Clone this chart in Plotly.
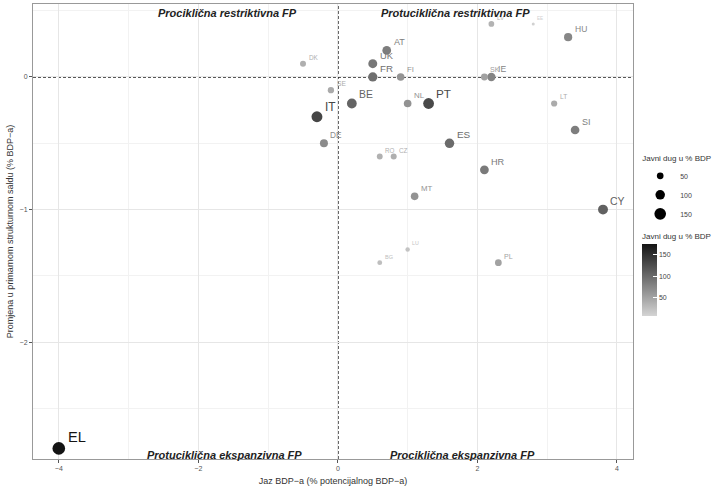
import numpy as np
import plotly.graph_objects as go

# ---- data ----
countries = ["AT", "BE", "BG", "CY", "CZ", "DE", "DK", "EE", "EL", "ES", "FI", "FR", "HR", "HU",
             "IE", "IT", "LT", "LU", "LV", "MT", "NL", "PL", "PT", "RO", "SE", "SI", "SK", "UK"]
output_gap = [0.7, 0.2, 0.6, 3.8, 0.8, -0.2, -0.5, 2.8, -4.0, 1.6, 0.9, 0.5, 2.1, 3.3,
              2.2, -0.3, 3.1, 1.0, 2.2, 1.1, 1.0, 2.3, 1.3, 0.6, -0.1, 3.4, 2.1, 0.5]
delta_balance = [0.2, -0.2, -1.4, -1.0, -0.6, -0.5, 0.1, 0.4, -2.8, -0.5, 0.0, 0.0, -0.7, 0.3,
                 0.0, -0.3, -0.2, -1.3, 0.4, -0.9, -0.2, -1.4, -0.2, -0.6, -0.1, -0.4, 0.0, 0.1]
public_debt = [84, 106, 26, 108, 40, 71, 40, 10, 177, 99, 63, 96, 86, 75,
               77, 132, 43, 22, 36, 64, 65, 51, 129, 38, 44, 83, 52, 89]

size_legend_values = [50, 100, 150]
colorbar_ticks = [50, 100, 150]
quadrant_labels = ["Prociklična restriktivna FP", "Protuciklična restriktivna FP",
                   "Protuciklična ekspanzivna FP", "Prociklična ekspanzivna FP"]
x_title = "Jaz BDP\u2212a (% potencijalnog BDP\u2212a)"
y_title = "Promjena u primarnom strukturnom saldu (% BDP\u2212a)"
legend_title = "Javni dug u % BDP"

# ---- styling helpers ----
FONT = "Liberation Sans, Arial, sans-serif"
cmin, cmax = 7, 176
g_low, g_high = 212, 20
cscale = [[0, f"rgb({g_low},{g_low},{g_low})"], [1, f"rgb({g_high},{g_high},{g_high})"]]


def diameter(d):
    return 0.95 * np.sqrt(d)


def gray(d):
    t = min(max((d - cmin) / (cmax - cmin), 0), 1)
    g = int(round(g_low + (g_high - g_low) * t))
    return f"rgb({g},{g},{g})"


fig = go.Figure()

fig.add_trace(go.Scatter(
    x=output_gap, y=delta_balance, mode="markers",
    text=countries,
    marker=dict(size=[diameter(d) for d in public_debt], color=public_debt,
                colorscale=cscale, cmin=cmin, cmax=cmax,
                line=dict(width=0), opacity=1,
                showscale=True,
                colorbar=dict(
                    title=dict(text=legend_title, side="top", font=dict(family=FONT, size=8, color="#333")),
                    x=1.015, xanchor="left", y=0.504, yanchor="top",
                    lenmode="pixels", len=86, thicknessmode="pixels", thickness=15,
                    ypad=0, xpad=0,
                    tickvals=colorbar_ticks, ticks="inside", tickcolor="white", ticklen=4,
                    tickfont=dict(family=FONT, size=7, color="#444"), outlinewidth=0,
                )),
    showlegend=False, hoverinfo="text",
))

# point labels (upper right of each point, sized/coloured by debt)
for c, xv, yv, d in zip(countries, output_gap, delta_balance, public_debt):
    fig.add_annotation(x=xv, y=yv, text=c, showarrow=False,
                       xanchor="left", yanchor="bottom", borderpad=0,
                       xshift=diameter(d) / 2 + 1.5, yshift=2,
                       font=dict(family=FONT, size=4 + 0.06 * d, color=gray(d)))

for v in size_legend_values:
    fig.add_trace(go.Scatter(
        x=[None], y=[None], mode="markers", name=str(v),
        marker=dict(size=diameter(v), color="black", line=dict(width=0)),
        showlegend=True,
    ))

# reference lines
fig.add_shape(type="line", xref="x", yref="paper", x0=0, x1=0, y0=0, y1=1,
              line=dict(color="#222", width=1.6, dash="3px,2px"), layer="below")
fig.add_shape(type="line", xref="paper", yref="y", x0=0, x1=1, y0=0, y1=0,
              line=dict(color="#222", width=1.6, dash="3px,2px"), layer="below")

qpos = [(-1.58, 0.485), (1.68, 0.485), (-1.62, -2.85), (1.78, -2.85)]
for lab, (qx, qy) in zip(quadrant_labels, qpos):
    fig.add_annotation(x=qx, y=qy, text="<b><i>" + lab + "</i></b>", showarrow=False,
                       font=dict(family=FONT, size=11, color="#222"), xanchor="center", yanchor="middle")

axis_common = dict(
    showline=True, linecolor="#999", linewidth=1, mirror=True,
    showgrid=True, gridcolor="#e6e6e6", gridwidth=1, zeroline=False,
    ticks="outside", ticklen=3, tickcolor="#555", tickwidth=1,
    tickfont=dict(family=FONT, size=7, color="#555"), automargin=False,
)

fig.update_layout(
    width=725, height=497,
    margin=dict(l=33, r=92, t=4, b=38),
    paper_bgcolor="white", plot_bgcolor="white",
    font=dict(family=FONT, color="#333"),
    xaxis=dict(range=[-4.37, 4.23], tickvals=[-4, -2, 0, 2, 4],
               minor=dict(tickvals=[-3, -1, 1, 3], showgrid=True, gridcolor="#f2f2f2", gridwidth=0.7, ticks=""),
               title=dict(text=x_title, font=dict(family=FONT, size=9, color="#333"), standoff=6),
               **axis_common),
    yaxis=dict(range=[-2.88, 0.55], tickvals=[-2, -1, 0],
               minor=dict(tickvals=[-2.5, -1.5, -0.5, 0.5], showgrid=True, gridcolor="#f2f2f2", gridwidth=0.7, ticks=""),
               title=dict(text=y_title, font=dict(family=FONT, size=9, color="#333"), standoff=4),
               **axis_common),
    legend=dict(title=dict(text=legend_title, font=dict(family=FONT, size=8, color="#333")),
                x=1.012, xanchor="left", y=0.677, yanchor="top",
                font=dict(family=FONT, size=7, color="#444"), itemsizing="trace",
                bgcolor="rgba(0,0,0,0)"),
)

fig.write_html("out.html", config={"displayModeBar": False},
               post_script="document.body.style.margin='0';")
